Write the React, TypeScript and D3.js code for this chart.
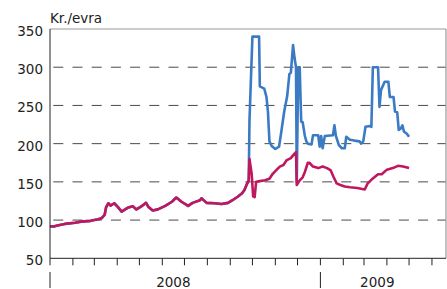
import * as d3 from 'd3';
import React from 'react';

// daily rate, kr. per euro; both series run together until late September 2008
const shared: [string, number][] = [
	['2008-01-01', 92], ['2008-01-06', 91.5], ['2008-01-11', 93], ['2008-01-21', 95],
	['2008-02-04', 96.5], ['2008-02-12', 98], ['2008-02-25', 99], ['2008-03-06', 101],
	['2008-03-11', 102.5], ['2008-03-15', 107], ['2008-03-17', 117], ['2008-03-20', 122],
	['2008-03-23', 119], ['2008-03-28', 122], ['2008-04-02', 117], ['2008-04-07', 111],
	['2008-04-15', 116], ['2008-04-22', 118], ['2008-04-27', 114], ['2008-05-03', 117.5],
	['2008-05-10', 122.5], ['2008-05-13', 117.5], ['2008-05-19', 112.5], ['2008-05-26', 114],
	['2008-06-05', 118.5], ['2008-06-14', 124], ['2008-06-20', 129.5], ['2008-06-27', 124],
	['2008-07-06', 118.5], ['2008-07-12', 122.5], ['2008-07-22', 126], ['2008-07-24', 128.5],
	['2008-07-31', 122.5], ['2008-08-11', 122], ['2008-08-20', 121], ['2008-08-29', 122.5],
	['2008-09-04', 126], ['2008-09-11', 130.5], ['2008-09-17', 135], ['2008-09-20', 139],
	['2008-09-23', 146], ['2008-09-26', 152],
];

const blueTail: [string, number][] = [
	['2008-09-27', 230], ['2008-10-01', 340], ['2008-10-10', 340], ['2008-10-11', 275],
	['2008-10-17', 272], ['2008-10-20', 261], ['2008-10-22', 242], ['2008-10-24', 203],
	['2008-10-27', 197], ['2008-11-01', 193], ['2008-11-06', 196], ['2008-11-09', 215],
	['2008-11-13', 242], ['2008-11-17', 262], ['2008-11-20', 291], ['2008-11-22', 293],
	['2008-11-25', 329], ['2008-11-27', 312], ['2008-11-29', 300], ['2008-11-30', 150],
	['2008-12-02', 300], ['2008-12-04', 300], ['2008-12-06', 229], ['2008-12-08', 228],
	['2008-12-11', 210], ['2008-12-13', 203], ['2008-12-15', 200], ['2008-12-20', 199],
	['2008-12-22', 211], ['2008-12-29', 211], ['2008-12-31', 196], ['2009-01-02', 210],
	['2009-01-04', 194], ['2009-01-07', 210], ['2009-01-18', 211], ['2009-01-20', 224],
	['2009-01-22', 210], ['2009-01-26', 198], ['2009-01-30', 194], ['2009-02-03', 194],
	['2009-02-05', 209], ['2009-02-10', 205], ['2009-02-16', 204], ['2009-02-23', 203],
	['2009-02-25', 200], ['2009-02-28', 203], ['2009-03-03', 222], ['2009-03-09', 223],
	['2009-03-11', 222], ['2009-03-13', 300], ['2009-03-20', 300], ['2009-03-22', 248],
	['2009-03-24', 270], ['2009-03-29', 281], ['2009-04-03', 281], ['2009-04-05', 261],
	['2009-04-10', 261], ['2009-04-12', 242], ['2009-04-15', 241], ['2009-04-17', 218],
	['2009-04-20', 220], ['2009-04-22', 224], ['2009-04-24', 216], ['2009-04-28', 213],
	['2009-05-01', 209],
];

const redTail: [string, number][] = [
	['2008-09-27', 180], ['2008-09-30', 160], ['2008-10-02', 131], ['2008-10-04', 130],
	['2008-10-06', 150], ['2008-10-11', 151], ['2008-10-18', 152], ['2008-10-24', 154],
	['2008-10-28', 160], ['2008-11-01', 164], ['2008-11-07', 170], ['2008-11-12', 172],
	['2008-11-16', 178], ['2008-11-22', 181], ['2008-11-27', 187], ['2008-11-29', 189],
	['2008-11-30', 146], ['2008-12-04', 152], ['2008-12-08', 156], ['2008-12-11', 163],
	['2008-12-15', 175], ['2008-12-17', 175], ['2008-12-22', 170], ['2008-12-29', 168],
	['2009-01-04', 170], ['2009-01-10', 168], ['2009-01-15', 165], ['2009-01-19', 156],
	['2009-01-23', 148], ['2009-01-28', 146], ['2009-02-03', 144], ['2009-02-10', 143],
	['2009-02-20', 142], ['2009-03-02', 140], ['2009-03-06', 148], ['2009-03-13', 154.5],
	['2009-03-20', 160], ['2009-03-25', 160], ['2009-04-01', 166], ['2009-04-09', 168],
	['2009-04-16', 171], ['2009-04-23', 170], ['2009-05-01', 168],
];

const yTicks = [50, 100, 150, 200, 250, 300, 350];
const gridTicks = [100, 150, 200, 250, 300];
const yearLabels: [string, string][] = [['2008', '2008-06-16'], ['2009', '2009-03-19']];
const yearStarts = ['2008-01-01', '2009-01-01'];

const W = 447;
const H = 289;
const margin = { top: 29, right: 1, bottom: 30.7, left: 50 };
const font = '"DejaVu Sans", sans-serif';

const parse = d3.timeParse('%Y-%m-%d');

export default function App() {
	const x = d3
		.scaleTime()
		.domain([parse('2008-01-01') as Date, parse('2009-06-20') as Date])
		.range([margin.left, W - margin.right]);
	const y = d3.scaleLinear().domain([50, 350]).range([H - margin.bottom, margin.top]);

	const line = d3
		.line<[string, number]>()
		.x(d => x(parse(d[0]) as Date))
		.y(d => y(d[1]));

	const blue = shared.concat(blueTail);
	const red = shared.concat(redTail);
	const months = x.ticks(d3.timeMonth.every(1) as d3.TimeInterval);
	const x0 = margin.left;
	const x1 = W - margin.right;
	const yb = y(50);

	return (
		<svg width={W} height={H} style={{ position: 'absolute', left: 0, top: 0 }} fontFamily={font}>
			{gridTicks.map(t => (
				<line key={t} x1={x0 + 3.3} x2={x1} y1={y(t)} y2={y(t)} stroke="#4a4a4a" strokeDasharray="10 9.2" />
			))}
			<line x1={x0} x2={x1} y1={y(350)} y2={y(350)} stroke="#999" strokeWidth={1.2} />
			<line x1={x1} x2={x1} y1={y(350)} y2={yb} stroke="#999" strokeWidth={1.2} />
			<path d={line(blue) || ''} fill="none" stroke="#3b7bc3" strokeWidth={2.6} strokeLinejoin="round" />
			<path d={line(red) || ''} fill="none" stroke="#c0175f" strokeWidth={2.6} strokeLinejoin="round" />
			<line x1={x0} x2={x0} y1={y(350)} y2={yb} stroke="#222" />
			<line x1={x0} x2={x1} y1={yb} y2={yb} stroke="#222" />
			{months.map((m, i) => (
				<line key={i} x1={x(m)} x2={x(m)} y1={yb} y2={yb + 7} stroke="#222" />
			))}
			{yearStarts.map(s => (
				<line key={s} x1={x(parse(s) as Date)} x2={x(parse(s) as Date)} y1={272} y2={288} stroke="#222" />
			))}
			{yTicks.map(t => (
				<text key={t} x={43} y={y(t) + 7} textAnchor="end" fontSize={13.5} fill="#222">
					{t}
				</text>
			))}
			{yearLabels.map(([label, d]) => (
				<text key={label} x={x(parse(d) as Date)} y={286.5} textAnchor="middle" fontSize={13.5} fill="#222">
					{label}
				</text>
			))}
			<text x={50} y={23} fontSize={13.5} fill="#222">
				Kr./evra
			</text>
		</svg>
	);
}
